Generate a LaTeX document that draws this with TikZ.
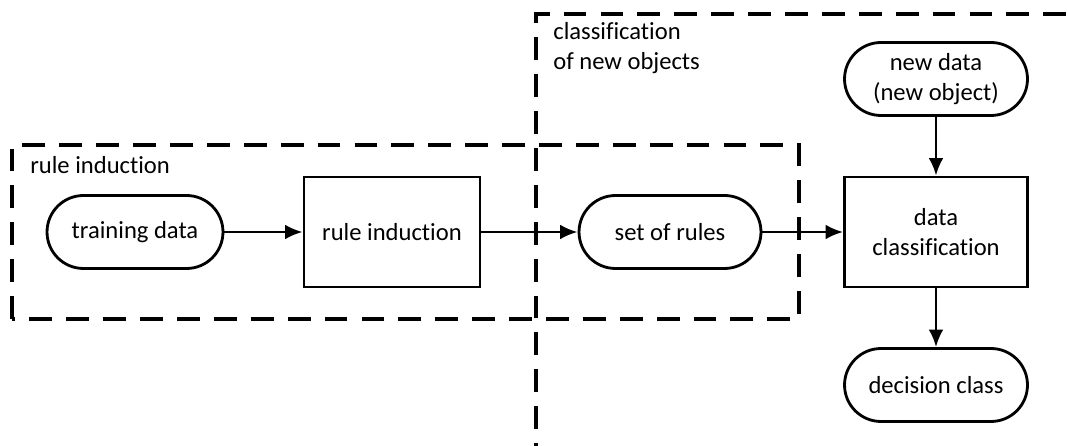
\documentclass[tikz,border=0pt]{standalone}
\usepackage{fontspec}
\setmainfont{Carlito}[Ligatures=NoCommon]
\usetikzlibrary{arrows.meta,positioning}
\colorlet{flowline}{black}
\newcommand{\flowfont}{\fontsize{14}{17}\selectfont}
\tikzset{
  terminal/.style={draw=flowline,line width=1.6pt,rounded corners=0.73cm,
    minimum width=3.6cm,minimum height=1.46cm,align=center,font=\flowfont},
  process/.style={draw=flowline,line width=1.6pt,
    minimum width=3.6cm,minimum height=2.2cm,align=center,font=\flowfont},
  groupbox/.style={draw=flowline,line width=1.9pt,dash pattern=on 13pt off 8pt},
  grouplabel/.style={inner sep=0pt,align=left,font=\flowfont},
  flow/.style={->,line width=1.6pt,draw=flowline}
}
\begin{document}
\begin{tikzpicture}[x=0.02cm,y=0.02cm,>={Latex[length=10pt,width=8.5pt]}]
\useasboundingbox (0,0) rectangle (1068,446);
% dashed groups
\draw[groupbox] (12,127) rectangle (799,301);
\draw[groupbox] (536,-20) -- (536,432) -- (1100,432);
\node[grouplabel,anchor=west] (lblind) at (30,281) {rule induction};
\node[grouplabel,anchor=north west] (lblcls) at (553,424) {classification\\of new objects};
% nodes
\node[terminal,minimum width=3.52cm] (train) at (135,214) {training data};
\node[process,minimum width=3.52cm] (ruleind) at (392,214) {rule induction};
\node[terminal,minimum width=3.64cm] (rules) at (670,214) {set of rules};
\node[process,minimum width=3.66cm] (classif) at (936,214) {data\\classification};
\node[terminal,minimum width=3.66cm] (newdata) at (936,367) {new data\\(new object)};
\node[terminal,minimum width=3.66cm] (decision) at (936,61) {decision class};
% arrows
\draw[flow] (train) -- (ruleind);
\draw[flow] (ruleind) -- (rules);
\draw[flow] (rules) -- (classif);
\draw[flow] (newdata) -- (classif);
\draw[flow] (classif) -- (decision);
\end{tikzpicture}
\end{document}
